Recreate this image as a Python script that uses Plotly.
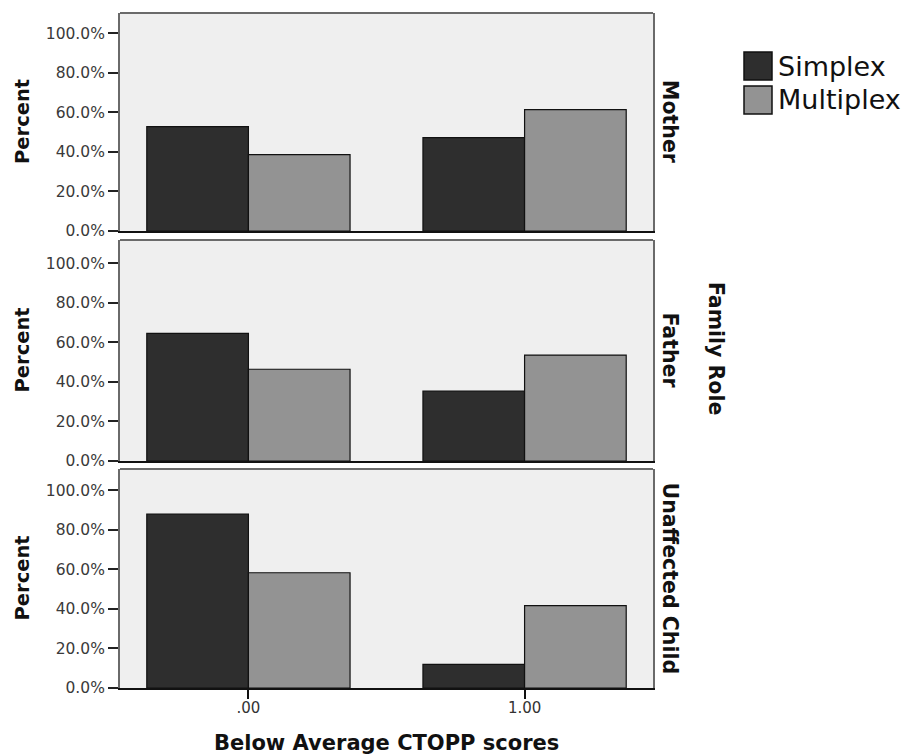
import plotly.graph_objects as go
from plotly.subplots import make_subplots

categories = [".00", "1.00"]
roles = ["Mother", "Father", "Unaffected Child"]
series_names = ["Simplex", "Multiplex"]
series_colors = ["#2e2e2e", "#939393"]
simplex = {"Mother": [52.8, 47.2], "Father": [64.6, 35.4], "Unaffected Child": [88.0, 12.0]}
multiplex = {"Mother": [38.6, 61.4], "Father": [46.4, 53.6], "Unaffected Child": [58.3, 41.7]}
y_ticks = [0, 20, 40, 60, 80, 100]

W, H = 912, 754
fig = make_subplots(rows=3, cols=1)

FONT = "DejaVu Sans"
TICKFONT = "DejaVu Sans"

for i, role in enumerate(roles, start=1):
    for name, color, vals in zip(series_names, series_colors, [simplex[role], multiplex[role]]):
        fig.add_trace(go.Bar(x=categories, y=vals, name=name,
                             marker=dict(color=color, line=dict(color="#111111", width=1.2)),
                             showlegend=False), row=i, col=1)

# panel pixel bounds (top, bottom)
panels = [(13, 231), (240, 461), (469, 688)]
x0, x1 = 120, 653
for i, (t, b) in enumerate(panels, start=1):
    xa = "xaxis" if i == 1 else f"xaxis{i}"
    ya = "yaxis" if i == 1 else f"yaxis{i}"
    xr = "x" if i == 1 else f"x{i}"
    yr = "y" if i == 1 else f"y{i}"
    top_val = (b - t) / 1.977
    fig.layout[xa].update(domain=[x0 / W, x1 / W], range=[-0.465, 1.465], automargin=False,
                          showline=True, mirror=False, linecolor="#111111", linewidth=2,
                          showgrid=False, zeroline=False,
                          ticks="outside" if i == 3 else "", ticklen=9, tickcolor="#111", tickwidth=2,
                          showticklabels=(i == 3), ticklabelstandoff=-4,
                          tickfont=dict(family=TICKFONT, size=15, color="#333"))
    fig.layout[ya].update(domain=[1 - b / H, 1 - t / H], range=[0, top_val], automargin=False,
                          tickvals=y_ticks, ticktext=[f"{v:.1f}%" for v in y_ticks],
                          ticks="outside", ticklen=10, tickcolor="#222", tickwidth=2,
                          showline=True, mirror=True, linecolor="#6a6a6a", linewidth=2,
                          showgrid=False, zeroline=False,
                          tickfont=dict(family=TICKFONT, size=15.5, color="#3a3a3a"))
    # top border of panel
    fig.add_shape(type="line", xref=f"{xr} domain", yref=f"{yr} domain",
                  x0=0, x1=1, y0=1, y1=1, line=dict(color="#6a6a6a", width=2))
    fig.add_annotation(text="<b>Percent</b>", x=22 / W, y=1 - (t + b) / 2 / H,
                       xref="paper", yref="paper", textangle=-90, showarrow=False,
                       xanchor="center", yanchor="middle",
                       font=dict(family=FONT, size=19.5, color="#111"))
    fig.add_annotation(text=f"<b>{roles[i-1]}</b>", x=670 / W, y=1 - (t + b) / 2 / H,
                       xref="paper", yref="paper", textangle=90, showarrow=False,
                       xanchor="center", yanchor="middle",
                       font=dict(family=FONT, size=20.5, color="#111"))

fig.add_annotation(text="<b>Family Role</b>", x=716 / W, y=1 - 348 / H,
                   xref="paper", yref="paper", textangle=90, showarrow=False,
                   xanchor="center", yanchor="middle",
                   font=dict(family=FONT, size=20.5, color="#111"))
fig.add_annotation(text="<b>Below Average CTOPP scores</b>", x=386 / W, y=1 - 743 / H,
                   xref="paper", yref="paper", showarrow=False,
                   xanchor="center", yanchor="middle",
                   font=dict(family=FONT, size=21, color="#111"))

# legend (drawn as swatches + labels)
leg_rows = [(52, 80), (86, 114)]
for (t, b), name, color in zip(leg_rows, series_names, series_colors):
    fig.add_shape(type="rect", xref="paper", yref="paper",
                  x0=744 / W, x1=772 / W, y0=1 - b / H, y1=1 - t / H,
                  fillcolor=color, line=dict(color="#111111", width=1.5))
    fig.add_annotation(text=name, x=776 / W, y=1 - (t + b) / 2 / H,
                       xref="paper", yref="paper", showarrow=False,
                       xanchor="left", yanchor="middle",
                       font=dict(family=FONT, size=27, color="#111"))

fig.update_layout(width=W, height=H, margin=dict(l=0, r=0, t=0, b=0, autoexpand=False),
                  paper_bgcolor="white", plot_bgcolor="#efefef",
                  barmode="group", bargap=0.264, bargroupgap=0,
                  showlegend=False)

fig.write_html("out.html")
